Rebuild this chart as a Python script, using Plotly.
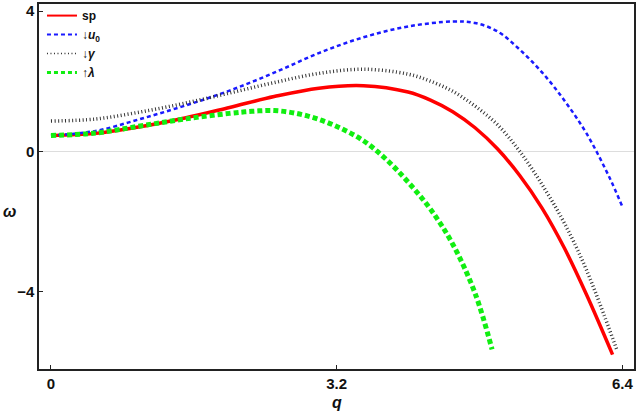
import plotly.graph_objects as go

# ---- data ----
q_sp = [0, 0.5, 1, 1.5, 2, 2.5, 3, 3.5, 4, 4.25, 4.5, 4.75, 5.0, 5.25, 5.5, 5.75, 6.0, 6.29]
w_sp = [0.45, 0.51, 0.70, 0.95, 1.25, 1.56, 1.80, 1.87, 1.69, 1.46, 1.13, 0.67, 0.07, -0.69, -1.62, -2.76, -4.10, -5.80]

q_u0 = [0, 0.5, 1, 1.5, 2, 2.5, 3, 3.5, 4, 4.5, 4.75, 5.0, 5.25, 5.5, 5.75, 6.0, 6.25, 6.4]
w_u0 = [0.45, 0.58, 0.92, 1.30, 1.73, 2.24, 2.80, 3.25, 3.56, 3.70, 3.66, 3.42, 2.90, 2.25, 1.45, 0.50, -0.72, -1.58]

q_g = [0, 0.5, 1, 1.5, 2, 2.5, 3, 3.5, 4.0, 4.25, 4.5, 4.75, 5.0, 5.25, 5.5, 5.75, 6.0, 6.34]
w_g = [0.86, 0.92, 1.12, 1.37, 1.66, 1.96, 2.22, 2.34, 2.20, 2.00, 1.71, 1.29, 0.76, 0.0, -0.95, -2.05, -3.40, -5.68]

q_l = [0, 0.5, 1, 1.5, 2, 2.25, 2.5, 2.75, 3.0, 3.25, 3.5, 3.75, 4.0, 4.25, 4.5, 4.75, 4.94]
w_l = [0.45, 0.52, 0.72, 0.92, 1.08, 1.14, 1.16, 1.08, 0.91, 0.65, 0.30, -0.22, -0.88, -1.65, -2.65, -4.05, -5.65]

names = ["<b>sp</b>", "<b>↓<i>u</i><sub>0</sub></b>", "<b>↓<i>γ</i></b>", "<b>↑<i>λ</i></b>"]

x_ticks = [0, 3.2, 6.4]
x_ticktext = ["0", "3.2", "6.4"]
y_ticks = [-4, 0, 4]
y_ticktext = ["−4", "0", "4"]

colors = ["#ff0000", "#1a1aff", "#333333", "#11ee11"]
widths = [3.5, 2.5, 3.5, 5]
dashes = ["solid", "4px,3px", "1px,2.5px", "5px,3px"]
leg_widths = [2, 2, 1.5, 3]
leg_dashes = ["solid", "4px,3px", "1px,2.5px", "4px,3px"]

fig = go.Figure()
for qs, ws, c, w, d in zip([q_sp, q_u0, q_g, q_l], [w_sp, w_u0, w_g, w_l],
                           colors, widths, dashes):
    fig.add_trace(go.Scatter(x=qs, y=ws, mode="lines", showlegend=False,
                             line=dict(color=c, width=w, dash=d, shape="spline", smoothing=1)))
# legend entries (thinner sample lines like the reference)
for n, c, w, d in zip(names, colors, leg_widths, leg_dashes):
    fig.add_trace(go.Scatter(x=[None], y=[None], mode="lines", name=n,
                             line=dict(color=c, width=w, dash=d)))

font = "Liberation Sans, Arial, sans-serif"
fig.update_layout(
    width=636, height=413,
    margin=dict(l=39, r=2, t=1, b=44),
    paper_bgcolor="white", plot_bgcolor="white",
    showlegend=True,
    legend=dict(x=0.005, y=1.008, xanchor="left", yanchor="top",
                bgcolor="rgba(0,0,0,0)", font=dict(family=font, size=12, color="#111"),
                tracegroupgap=0),
    xaxis=dict(range=[-0.134, 6.53], tickvals=x_ticks, ticktext=x_ticktext,
               showgrid=False, zeroline=False, showline=True, mirror=True,
               linecolor="#222", linewidth=1.5, ticks="inside", ticklen=4, tickcolor="#222",
               tickfont=dict(family=font, size=15, color="#111", weight="bold")),
    yaxis=dict(range=[-6.21, 4.2], tickvals=y_ticks, ticktext=y_ticktext,
               showgrid=False, zeroline=True, zerolinecolor="#dddddd", zerolinewidth=1,
               showline=True, mirror=True,
               linecolor="#222", linewidth=1.5, ticks="inside", ticklen=4, tickcolor="#222",
               tickfont=dict(family=font, size=15, color="#111", weight="bold")),
    annotations=[
        dict(text="<b><i>ω</i></b>", xref="paper", yref="paper", x=-0.049, y=0.432,
             showarrow=False, font=dict(family=font, size=16, color="#111"),
             xanchor="center", yanchor="middle"),
        dict(text="<b><i>q</i></b>", xref="paper", yref="paper", x=0.5, y=-0.092,
             showarrow=False, font=dict(family=font, size=16, color="#111"),
             xanchor="center", yanchor="middle"),
    ],
)

fig.write_html("out.html")
